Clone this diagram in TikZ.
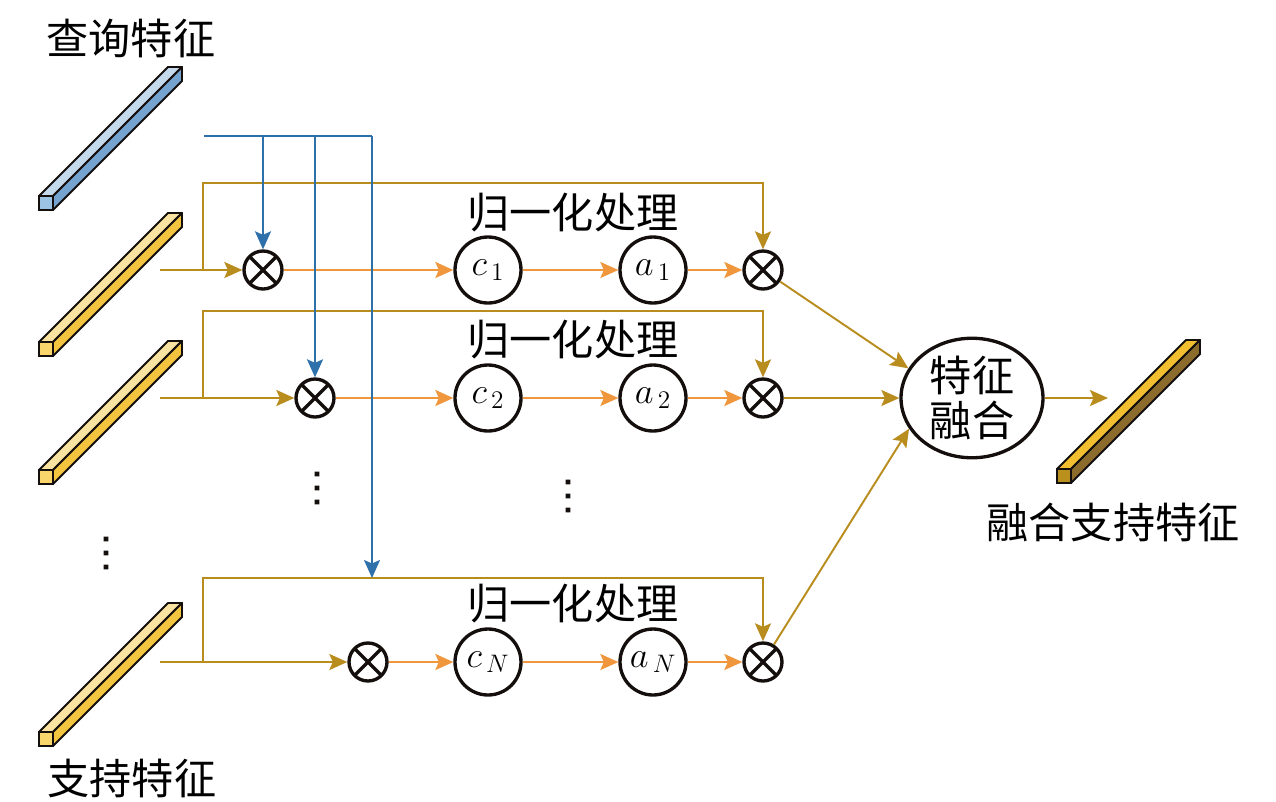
\documentclass[tikz,border=0pt]{standalone}
\usepackage{fontspec}
\newfontfamily\cjk{Noto Sans CJK SC}
\usetikzlibrary{arrows.meta,shapes.geometric}

\definecolor{goldline}{RGB}{185,140,30}
\definecolor{orangeline}{RGB}{240,150,60}
\definecolor{blueline}{RGB}{46,112,170}
\definecolor{barline}{RGB}{20,15,12}
\definecolor{qtop}{RGB}{197,217,236}
\definecolor{qside}{RGB}{116,163,207}
\definecolor{qfront}{RGB}{157,195,228}
\definecolor{stop}{RGB}{250,227,160}
\definecolor{sside}{RGB}{243,196,64}
\definecolor{sfront}{RGB}{248,214,108}
\definecolor{ftop}{RGB}{241,190,48}
\definecolor{fside}{RGB}{140,108,45}
\definecolor{ffront}{RGB}{185,144,30}

% #1,#2: front face corner; #3 top, #4 side, #5 front colour
\newcommand{\featbar}[5]{%
  \filldraw[draw=barline,fill=#3,line width=1.1pt,line join=round]
    (#1,#2) -- (#1+14,#2) -- ++(129,-129) -- ++(-14,0) -- cycle;
  \filldraw[draw=barline,fill=#4,line width=1.1pt,line join=round]
    (#1+14,#2) -- (#1+14,#2+14) -- ++(129,-129) -- ++(0,-14) -- cycle;
  \filldraw[draw=barline,fill=#5,line width=1.1pt] (#1,#2) rectangle (#1+14,#2+14);
}
% three dots, #1,#2: middle dot
\newcommand{\vdotsat}[2]{%
  \fill[barline] (#1-2.3,#2-16.3) rectangle ++(4.6,4.6)
                 (#1-2.3,#2-2.3) rectangle ++(4.6,4.6)
                 (#1-2.3,#2+11.7) rectangle ++(4.6,4.6);
}

\begin{document}
\begin{tikzpicture}[x=0.02cm,y=-0.02cm,
  >={Stealth[length=0.36cm,width=0.32cm,inset=0.07cm]},
  gold/.style={draw=goldline,line width=1.1pt},
  orng/.style={draw=orangeline,line width=1.1pt},
  qline/.style={draw=blueline,line width=1.1pt},
  otimes/.style={circle,draw=barline,line width=1.9pt,minimum size=0.76cm,inner sep=0pt,
    path picture={\draw[line width=1.9pt,barline]
      (path picture bounding box.north west) -- (path picture bounding box.south east)
      (path picture bounding box.north east) -- (path picture bounding box.south west);}},
  unit/.style={circle,draw=barline,line width=1.9pt,minimum size=1.32cm,inner sep=0pt,
    font=\fontsize{21}{24}\selectfont},
  fuse/.style={ellipse,draw=barline,line width=1.9pt,minimum width=2.84cm,minimum height=2.24cm,
    inner sep=0pt,align=center,font=\cjk\fontsize{24}{26}\selectfont},
  lbl/.style={inner sep=0pt,font=\cjk\fontsize{24}{26}\selectfont}]
  \useasboundingbox (0,0) rectangle (1276,802);

  \featbar{39}{196}{qtop}{qside}{qfront}
  \featbar{39}{342}{stop}{sside}{sfront}
  \featbar{39}{470}{stop}{sside}{sfront}
  \featbar{39}{732}{stop}{sside}{sfront}
  \featbar{1057}{469}{ftop}{fside}{ffront}

  \node[lbl] (query) at (131,38) {查询特征};
  \node[lbl] (support) at (132,778) {支持特征};
  \node[lbl] (fused) at (1113,522) {融合支持特征};

  \node[otimes] (m1) at (263,270) {};
  \node[unit] (c1) at (488,270) {$c_{\,1}$};
  \node[unit] (a1) at (653,270) {$a_{\,1}$};
  \node[otimes] (o1) at (763,270) {};
  \node[lbl] (norm1) at (573,213) {归一化处理};

  \node[otimes] (m2) at (315,398) {};
  \node[unit] (c2) at (488,398) {$c_{\,2}$};
  \node[unit] (a2) at (653,398) {$a_{\,2}$};
  \node[otimes] (o2) at (763,398) {};
  \node[lbl] (norm2) at (573,340) {归一化处理};

  \node[otimes] (mN) at (368,662) {};
  \node[unit] (cN) at (488,662) {$c_{\,N}$};
  \node[unit] (aN) at (653,662) {$a_{\,N}$};
  \node[otimes] (oN) at (763,662) {};
  \node[lbl] (normN) at (573,604) {归一化处理};

  \node[fuse] (fuse) at (972,398) {特征\\融合};

  \vdotsat{317}{488}
  \vdotsat{568}{496}
  \vdotsat{106}{553}

  \coordinate (s1) at (160,270); \coordinate (b1) at (203,270); \coordinate (t1) at (203,183);
  \coordinate (s2) at (160,398); \coordinate (b2) at (203,398); \coordinate (t2) at (203,311);
  \coordinate (sN) at (160,662); \coordinate (bN) at (203,662); \coordinate (tN) at (203,578);
  \coordinate (q) at (204,136); \coordinate (qe) at (372,136);
  \coordinate (out) at (1108,398);

  \draw[gold,->] (s1) -- (m1);
  \draw[gold,->] (b1) -- (t1) -| (o1);
  \draw[orng,->] (m1) -- (c1);
  \draw[orng,->] (c1) -- (a1);
  \draw[orng,->] (a1) -- (o1);

  \draw[gold,->] (s2) -- (m2);
  \draw[gold,->] (b2) -- (t2) -| (o2);
  \draw[orng,->] (m2) -- (c2);
  \draw[orng,->] (c2) -- (a2);
  \draw[orng,->] (a2) -- (o2);

  \draw[gold,->] (sN) -- (mN);
  \draw[gold,->] (bN) -- (tN) -| (oN);
  \draw[orng,->] (mN) -- (cN);
  \draw[orng,->] (cN) -- (aN);
  \draw[orng,->] (aN) -- (oN);

  \draw[gold,->] (o1) -- (fuse.155);
  \draw[gold,->] (o2) -- (fuse);
  \draw[gold,->] (oN) -- (fuse.206);
  \draw[gold,->] (fuse) -- (out);

  \draw[qline] (q) -- (qe);
  \draw[qline,->] (m1 |- q) -- (m1);
  \draw[qline,->] (m2 |- q) -- (m2);
  \draw[qline,->] (qe) -- (qe |- tN);
\end{tikzpicture}
\end{document}
